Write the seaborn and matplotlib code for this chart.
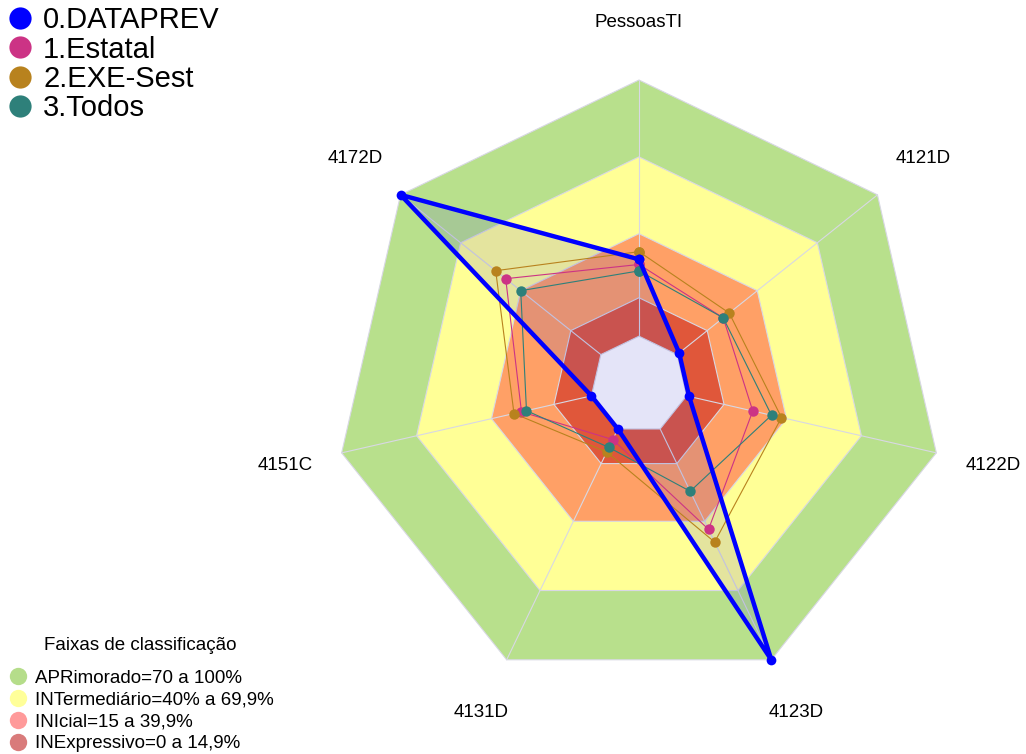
import numpy as np
import pandas as pd
import matplotlib
matplotlib.use("Agg")
import matplotlib.pyplot as plt
from matplotlib.lines import Line2D
import seaborn as sns

# Axes of the radar (clockwise from top)
axes_labels = ["PessoasTI", "4121D", "4122D", "4123D", "4131D", "4151C", "4172D"]

# Series values (%)
series_names = ["0.DATAPREV", "1.Estatal", "2.EXE-Sest", "3.Todos"]
dataprev = [30, 1, 1, 100, 0, 0, 100]
estatal = [28, 23, 26.5, 43.5, 4.6, 28, 47.5]
exe_sest = [33, 26, 38, 49, 10, 31, 52.5]
todos = [25.5, 23, 34, 27, 8, 26, 40]
series_colors = ["#0000FF", "#CC3385", "#B8821E", "#2E807A"]

# Classification bands
band_limits = [100, 70, 40, 15]
band_colors = ["#B8E08C", "#FFFF96", "#FFA066", "#E0573A"]
band_labels = ["APRimorado=70 a 100%", "INTermediário=40% a 69,9%",
               "INIcial=15 a 39,9%", "INExpressivo=0 a 14,9%"]
band_legend_colors = ["#B5DD8A", "#FFFF99", "#FF9A9A", "#D97B7B"]

HOLE = 0.16


def to_r(v):
    return HOLE + (1 - HOLE) * np.asarray(v, dtype=float) / 100.0


sns.set_theme(style="white")
plt.rcParams["font.family"] = ["Liberation Sans", "DejaVu Sans"]
plt.rcParams["text.color"] = "black"

n = len(axes_labels)
theta = np.arange(n) * 2 * np.pi / n
theta_c = np.append(theta, theta[0] + 2 * np.pi)

fig = plt.figure(figsize=(10.26, 7.54), dpi=100)
ax = fig.add_axes([334 / 1026, 64 / 754, 610 / 1026, 610 / 754], projection="polar")
ax.set_theta_zero_location("N")
ax.set_theta_direction(-1)
ax.set_ylim(0, 1)
ax.grid(False)
ax.set_xticks([])
ax.set_yticks([])
ax.spines["polar"].set_visible(False)
ax.patch.set_alpha(0)

# background bands
for lim, col in zip(band_limits, band_colors):
    ax.fill(theta_c, np.full(n + 1, to_r(lim)), color=col, ec="#D8D8E4",
            lw=0.8, zorder=1, clip_on=False)
ax.fill(theta_c, np.full(n + 1, HOLE), color="white", ec="#D8D8E4",
        lw=0.8, zorder=1, clip_on=False)
for t in theta:
    ax.plot([t, t], [HOLE, 1], color="#D8D8E4", lw=0.8, zorder=1.5, clip_on=False)

# DATAPREV fill
r0 = to_r(dataprev + dataprev[:1])
ax.fill(theta_c, r0, color="#4040D0", alpha=0.14, lw=0, zorder=2, clip_on=False)

all_series = [dataprev, estatal, exe_sest, todos]
order = [1, 2, 3, 0]
for i in order:
    vals = all_series[i]
    df = pd.DataFrame({"theta": theta_c, "r": to_r(vals + vals[:1])})
    big = i == 0
    sns.lineplot(data=df, x="theta", y="r", sort=False, estimator=None, ax=ax,
                 color=series_colors[i], lw=3.2 if big else 0.8,
                 marker="o", markersize=7 if big else 7.5,
                 markeredgewidth=0, zorder=4 if big else 3, clip_on=False,
                 legend=False)

ax.set_xlabel("")
ax.set_ylabel("")
ax.set_ylim(0, 1)

for t, lab in zip(theta, axes_labels):
    ax.text(t, 1.19, lab, ha="center", va="center", fontsize=13.5, color="black")

h1 = [Line2D([], [], marker="o", ls="", color=c, markersize=16, markeredgewidth=0)
      for c in series_colors]
fig.legend(h1, series_names, loc="upper left", bbox_to_anchor=(0.0, 1.003),
           frameon=False, fontsize=21, handletextpad=0.43, labelspacing=0.045,
           handlelength=0.76, borderaxespad=0.1, borderpad=0.19)

h2 = [Line2D([], [], marker="o", ls="", color=c, markersize=12.5, markeredgewidth=0)
      for c in band_legend_colors]
fig.legend(h2, band_labels, loc="lower left", bbox_to_anchor=(0.0, -0.01),
           frameon=False, fontsize=13.5, handletextpad=0.44, labelspacing=0.25,
           handlelength=0.93, borderaxespad=0.2, borderpad=0.3)
fig.text(140 / 1026, 1 - 645 / 754, "Faixas de classificação", ha="center",
         va="center", fontsize=13.5)

fig.savefig("out.png", dpi=100)
